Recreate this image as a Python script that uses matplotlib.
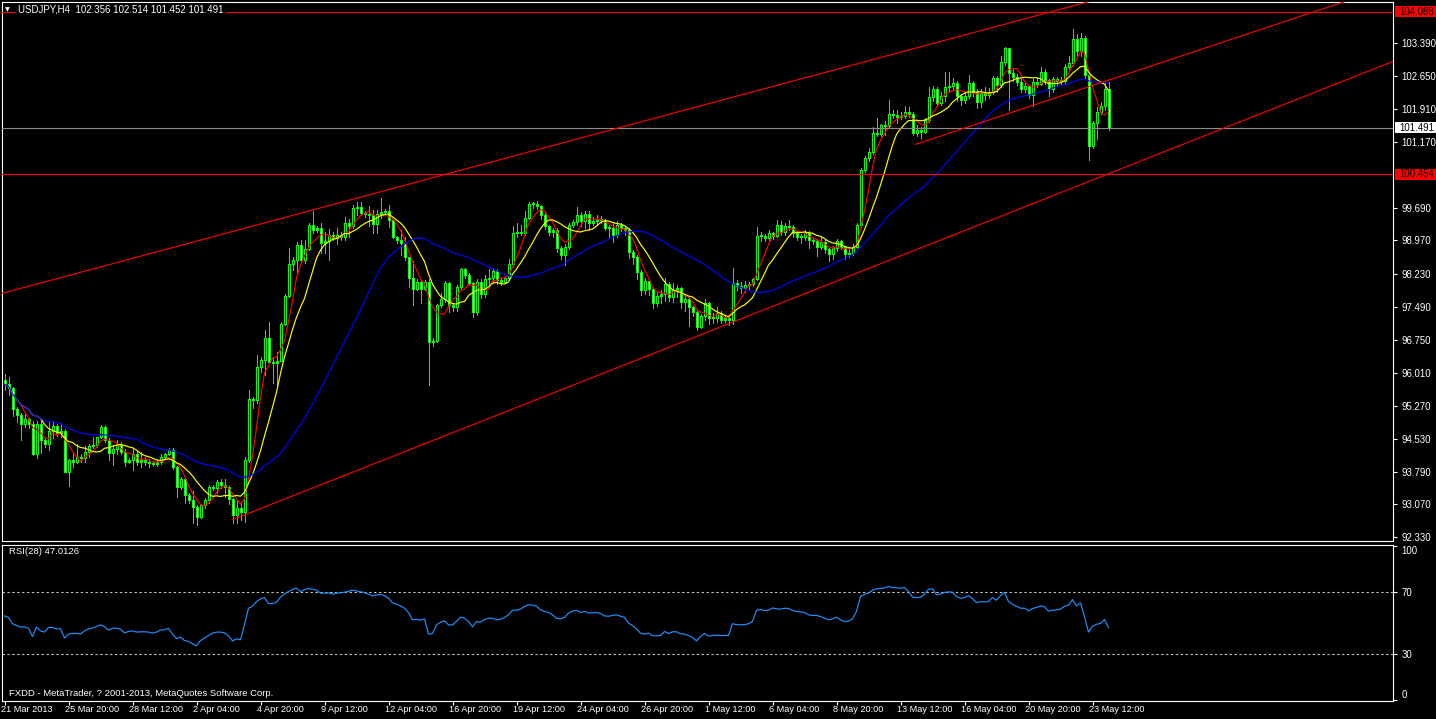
import numpy as np
import pandas as pd
import matplotlib
matplotlib.use("Agg")
import matplotlib.pyplot as plt
from matplotlib.patches import Rectangle
from matplotlib.transforms import blended_transform_factory

# ---------------- data ----------------
header_text = "USDJPY,H4  102.356 102.514 101.452 101.491"
rsi_text = "RSI(28) 47.0126"
copyright_text = "FXDD - MetaTrader, ? 2001-2013, MetaQuotes Software Corp."

first_open = 95.85
closes = [
    95.75, 95.66, 95.19, 95.06, 94.85, 94.97, 94.85, 94.19, 94.85, 94.50,
    94.41, 94.70, 94.82, 94.65, 94.70, 93.79, 94.06, 94.02, 94.12, 94.10,
    94.24, 94.37, 94.40, 94.56, 94.80, 94.50, 94.22, 94.30, 94.40, 94.24,
    94.02, 94.06, 94.20, 94.02, 94.06, 94.02, 93.98, 93.97, 94.00, 94.12,
    94.18, 94.27, 93.89, 93.46, 93.64, 93.27, 93.16, 93.01, 92.79, 93.05,
    93.16, 93.46, 93.42, 93.57, 93.50, 93.46, 93.19, 92.82, 92.97, 92.90,
    94.05, 95.41, 95.40, 96.13, 96.29, 96.78, 96.26, 96.22, 96.28, 97.11,
    97.73, 98.44, 98.53, 98.86, 98.53, 98.77, 99.31, 99.20, 99.25, 98.91,
    98.95, 99.09, 99.03, 99.10, 99.05, 99.35, 99.30, 99.69, 99.72, 99.58,
    99.56, 99.55, 99.33, 99.56, 99.60, 99.62, 99.43, 99.05, 98.99, 98.92,
    98.59, 98.14, 97.88, 98.05, 97.88, 98.05, 96.69, 96.73, 97.52, 97.65,
    98.01, 97.52, 97.47, 97.92, 98.32, 98.20, 98.01, 97.36, 98.05, 97.77,
    98.10, 98.12, 98.29, 98.08, 98.05, 98.12, 98.44, 99.14, 99.17, 99.14,
    99.47, 99.78, 99.79, 99.74, 99.54, 99.29, 99.17, 99.20, 98.80, 98.65,
    98.83, 99.32, 99.39, 99.54, 99.40, 99.56, 99.37, 99.40, 99.46, 99.43,
    99.24, 99.25, 99.09, 99.31, 99.25, 99.21, 98.72, 98.61, 98.27, 97.86,
    98.07, 97.88, 97.58, 97.73, 97.76, 97.99, 97.70, 97.86, 97.90, 97.60,
    97.67, 97.47, 97.37, 97.04, 97.28, 97.56, 97.23, 97.23, 97.34, 97.20,
    97.24, 97.18, 98.01, 97.95, 97.90, 97.97, 98.00, 98.10, 99.07, 99.06,
    99.02, 99.13, 99.07, 99.31, 99.15, 99.29, 99.27, 99.14, 99.05, 99.05,
    99.14, 98.97, 98.95, 98.83, 98.94, 98.77, 98.66, 98.79, 98.96, 98.82,
    98.67, 98.70, 98.83, 99.31, 100.55, 100.81, 100.96, 101.38, 101.36, 101.55,
    101.53, 101.81, 101.78, 101.73, 101.75, 101.85, 101.80, 101.38, 101.45, 101.40,
    101.67, 102.19, 102.37, 102.05, 102.20, 102.41, 102.42, 102.50, 102.20, 102.12,
    102.20, 102.50, 102.30, 102.08, 102.28, 102.22, 102.30, 102.60, 102.45, 102.97,
    103.27, 102.71, 102.64, 102.52, 102.37, 102.42, 102.23, 102.52, 102.48, 102.75,
    102.56, 102.35, 102.58, 102.55, 102.55, 102.86, 102.95, 103.49, 103.20, 103.50,
    102.67, 101.08, 101.59, 101.85, 101.98, 102.356, 101.491,
]
highs = [
    95.98, 95.92, 95.70, 95.25, 95.10, 95.10, 95.00, 94.92, 94.92, 94.92,
    94.55, 94.92, 94.92, 94.85, 94.88, 94.76, 94.08, 94.19, 94.42, 94.18,
    94.37, 94.42, 94.56, 94.58, 94.84, 94.84, 94.55, 94.38, 94.50, 94.45,
    94.30, 94.10, 94.30, 94.25, 94.24, 94.12, 94.08, 94.03, 94.05, 94.18,
    94.22, 94.32, 94.32, 93.92, 93.68, 93.68, 93.32, 93.35, 93.05, 93.08,
    93.20, 93.50, 93.50, 93.60, 93.62, 93.62, 93.48, 93.20, 93.16, 93.12,
    94.13, 95.63, 95.47, 96.40, 96.37, 96.96, 97.15, 96.37, 96.48, 97.15,
    97.78, 98.79, 98.61, 98.94, 98.98, 98.99, 99.35, 99.64, 99.30, 99.35,
    99.17, 99.22, 99.15, 99.24, 99.15, 99.49, 99.46, 99.76, 99.82, 99.82,
    99.62, 99.74, 99.65, 99.65, 99.91, 99.68, 99.76, 99.43, 99.07, 99.20,
    99.05, 98.59, 98.52, 98.10, 98.08, 98.08, 98.10, 96.78, 97.55, 97.80,
    98.06, 98.05, 97.58, 97.98, 98.35, 98.36, 98.24, 98.05, 98.10, 98.10,
    98.20, 98.33, 98.35, 98.32, 98.14, 98.15, 98.55, 99.30, 99.35, 99.32,
    99.62, 99.84, 99.84, 99.85, 99.76, 99.58, 99.32, 99.25, 99.25, 98.85,
    98.90, 99.35, 99.43, 99.71, 99.60, 99.62, 99.62, 99.50, 99.54, 99.52,
    99.46, 99.32, 99.35, 99.40, 99.35, 99.30, 99.25, 98.75, 98.65, 98.30,
    98.12, 98.10, 97.92, 97.80, 97.85, 98.12, 98.05, 98.02, 97.98, 97.93,
    97.75, 97.70, 97.50, 97.40, 97.32, 97.65, 97.60, 97.35, 97.48, 97.38,
    97.30, 97.28, 98.35, 98.08, 98.05, 98.06, 98.04, 98.14, 99.28, 99.17,
    99.12, 99.20, 99.15, 99.42, 99.40, 99.36, 99.42, 99.32, 99.18, 99.12,
    99.20, 99.18, 99.02, 99.00, 99.05, 98.98, 98.80, 98.84, 99.00, 98.99,
    98.85, 98.78, 98.88, 99.35, 100.60, 100.85, 101.05, 101.50, 101.70, 101.58,
    101.65, 102.11, 101.90, 101.88, 101.85, 101.98, 101.95, 101.85, 101.55, 101.52,
    101.72, 102.40, 102.42, 102.40, 102.30, 102.75, 102.75, 102.60, 102.55, 102.25,
    102.30, 102.68, 102.55, 102.35, 102.35, 102.40, 102.38, 102.65, 102.65, 103.10,
    103.30, 103.28, 102.80, 102.70, 102.58, 102.50, 102.45, 102.58, 102.60, 102.85,
    102.80, 102.58, 102.62, 102.62, 102.62, 102.92, 103.10, 103.70, 103.60, 103.62,
    103.55, 102.70, 101.65, 101.95, 102.06, 102.51, 102.514,
]
lows = [
    95.62, 95.51, 95.03, 94.91, 94.50, 94.80, 94.78, 94.17, 94.10, 94.22,
    94.35, 94.28, 94.55, 94.60, 94.58, 93.79, 93.47, 93.90, 93.98, 94.00,
    94.02, 94.13, 94.32, 94.35, 94.54, 94.46, 94.06, 93.94, 94.20, 94.18,
    93.92, 93.98, 93.84, 93.95, 93.90, 93.95, 93.90, 93.92, 93.93, 93.96,
    94.08, 94.17, 93.85, 93.22, 93.40, 93.10, 93.10, 92.64, 92.60, 92.75,
    92.98, 93.10, 93.38, 93.32, 93.42, 93.23, 93.08, 92.64, 92.64, 92.72,
    92.67, 94.02, 95.21, 95.32, 96.03, 95.95, 96.22, 95.77, 95.73, 96.27,
    97.07, 97.70, 98.31, 98.27, 98.49, 98.46, 98.75, 99.13, 99.15, 98.68,
    98.68, 98.53, 98.98, 98.90, 98.98, 98.98, 99.05, 99.25, 99.54, 99.54,
    99.50, 99.30, 99.13, 99.13, 99.47, 99.55, 99.28, 99.02, 98.92, 98.65,
    98.54, 97.93, 97.52, 97.85, 97.56, 97.85, 95.73, 96.60, 96.70, 97.47,
    97.60, 97.37, 97.38, 97.40, 97.88, 98.12, 97.97, 97.26, 97.30, 97.68,
    97.70, 98.00, 98.05, 98.00, 97.98, 98.02, 98.08, 98.40, 99.05, 99.10,
    99.10, 99.45, 99.70, 99.68, 99.45, 99.22, 99.10, 99.05, 98.72, 98.55,
    98.42, 98.78, 99.28, 99.32, 99.30, 99.25, 99.20, 99.32, 99.32, 99.35,
    99.20, 99.05, 98.94, 99.05, 99.18, 99.10, 98.58, 98.45, 98.10, 97.75,
    97.78, 97.75, 97.45, 97.50, 97.58, 97.62, 97.62, 97.60, 97.70, 97.45,
    97.40, 97.05, 97.28, 96.97, 97.00, 97.20, 97.10, 97.12, 97.15, 97.12,
    97.14, 97.08, 97.10, 97.86, 97.80, 97.82, 97.88, 97.96, 98.08, 98.95,
    98.95, 98.98, 99.00, 99.04, 99.10, 99.10, 99.20, 99.05, 98.98, 98.92,
    98.98, 98.80, 98.88, 98.62, 98.78, 98.70, 98.52, 98.55, 98.74, 98.77,
    98.55, 98.60, 98.65, 98.80, 99.28, 100.50, 100.75, 100.90, 101.30, 101.30,
    101.33, 101.50, 101.72, 101.60, 101.68, 101.70, 101.73, 101.33, 101.30, 101.26,
    101.38, 101.63, 102.10, 101.98, 102.00, 102.10, 102.30, 102.35, 102.10, 102.00,
    102.05, 102.15, 102.20, 101.93, 101.95, 102.12, 102.15, 102.25, 102.30, 102.40,
    102.90, 101.90, 102.55, 102.45, 102.30, 102.30, 102.15, 101.98, 102.40, 102.45,
    102.48, 102.20, 102.30, 102.46, 102.45, 102.50, 102.80, 102.90, 103.12, 103.10,
    102.60, 100.77, 101.03, 101.25, 101.80, 101.90, 101.452,
]
rsi_values = [
    54.6, 53.6, 49.5, 48.4, 47.3, 47.5, 46.6, 41.2, 47.3, 44.9,
    44.1, 47.1, 47.1, 46.2, 46.2, 40.2, 42.8, 43.2, 43.2, 42.8,
    44.9, 46.2, 46.6, 47.7, 48.8, 47.7, 45.4, 46.6, 46.6, 46.0,
    43.6, 44.5, 44.9, 44.1, 44.3, 44.3, 44.1, 43.4, 44.1, 45.4,
    45.6, 46.6, 42.8, 39.9, 40.8, 38.6, 38.0, 36.5, 35.2, 38.6,
    40.2, 41.9, 43.4, 44.1, 44.1, 43.6, 41.7, 38.4, 39.7, 39.1,
    48.8, 59.6, 60.9, 63.9, 65.7, 66.5, 62.6, 62.6, 63.5, 66.8,
    68.9, 70.4, 71.9, 72.6, 70.4, 71.7, 72.4, 71.9, 71.3, 69.4,
    69.4, 69.6, 68.7, 69.4, 69.6, 70.0, 70.6, 71.3, 70.9, 70.2,
    69.8, 68.7, 67.6, 68.3, 68.5, 67.8, 66.1, 63.1, 62.2, 61.1,
    59.6, 56.8, 52.1, 52.5, 51.8, 52.7, 42.8, 43.2, 48.8, 50.5,
    51.4, 48.8, 48.8, 51.0, 53.8, 53.1, 51.0, 47.5, 51.0, 50.5,
    52.3, 53.1, 53.1, 52.1, 52.5, 53.6, 55.3, 58.3, 58.3, 59.0,
    60.7, 61.8, 61.6, 60.9, 58.5, 57.5, 56.8, 55.3, 53.1, 52.7,
    53.6, 56.4, 57.7, 58.3, 56.8, 57.5, 56.6, 56.6, 56.8, 56.2,
    54.6, 54.4, 54.9, 55.3, 54.4, 53.6, 49.9, 48.4, 46.2, 43.4,
    42.8, 43.4, 41.7, 41.7, 41.9, 44.5, 43.2, 44.3, 44.3, 43.0,
    42.8, 41.9, 40.6, 38.4, 41.2, 43.2, 41.5, 41.9, 42.1, 41.9,
    41.9, 41.9, 49.5, 49.0, 48.8, 49.0, 49.5, 51.0, 58.3, 58.8,
    58.1, 58.3, 59.8, 59.2, 59.0, 59.6, 59.4, 58.1, 57.5, 57.2,
    56.8, 55.3, 54.9, 54.9, 54.2, 53.1, 52.1, 52.7, 53.8, 52.1,
    51.0, 51.2, 52.7, 57.5, 67.2, 68.5, 69.4, 71.3, 72.2, 72.4,
    72.8, 73.7, 73.0, 72.8, 72.6, 73.0, 70.4, 66.8, 66.5, 66.8,
    68.7, 71.9, 72.2, 68.3, 68.9, 69.8, 70.2, 70.0, 67.2, 66.1,
    66.5, 67.8, 65.7, 63.3, 63.9, 63.7, 63.9, 66.5, 64.8, 67.8,
    69.8, 63.9, 62.2, 60.9, 59.6, 59.6, 57.9, 59.4, 60.1, 61.1,
    60.5, 57.7, 58.3, 58.5, 59.0, 60.9, 61.6, 65.2, 61.1, 63.1,
    54.2, 44.1, 47.9, 49.2, 49.7, 52.3, 47.0,
]

x_labels = ["21 Mar 2013", "25 Mar 20:00", "28 Mar 12:00", "2 Apr 04:00", "4 Apr 20:00",
            "9 Apr 12:00", "12 Apr 04:00", "16 Apr 20:00", "19 Apr 12:00", "24 Apr 04:00",
            "26 Apr 20:00", "1 May 12:00", "6 May 04:00", "8 May 20:00", "13 May 12:00",
            "16 May 04:00", "20 May 20:00", "23 May 12:00"]
x_label_bars = [0, 16, 32, 48, 64, 80, 96, 112, 128, 144, 160, 176, 192, 208, 224, 240, 256, 272]

price_ticks = [103.390, 102.650, 101.910, 101.170, 99.690, 98.970, 98.230, 97.490,
               96.750, 96.010, 95.270, 94.530, 93.790, 93.070, 92.330]
red_levels = [104.088, 100.454]
bid_level = 101.491
rsi_ticks = [100, 70, 30, 0]
rsi_levels = [70, 30]

# trend lines: two anchors (bar index, price)
trend_upper = [(0.0, 97.80), (250.0, 103.81)]
trend_mid = [(227.75, 101.12), (277.75, 102.61)]
trend_lower = [(57.0, 92.72), (231.5, 98.89)]

ma_periods = {"red": 5, "yellow": 10, "blue": 34}

# ---------------- figure ----------------
plt.rcParams["font.family"] = ["Liberation Sans", "DejaVu Sans"]
W, H = 1436, 719
fig = plt.figure(figsize=(W / 100, H / 100), dpi=100, facecolor="black")


def box(l, t, r, b):
    return [l / W, 1 - b / H, (r - l) / W, (b - t) / H]


ax = fig.add_axes(box(2, 2, 1393, 541))
rx = fig.add_axes(box(2, 545, 1393, 701))
FG = "white"
LIME = "#00ff00"
FS = 6.4
PX = 0.72  # one pixel in points

# bar i is centred on pixel column 4 + 4*i (4 px per bar)
x_left, x_right = (2 - 4.5) / 4, (1393 - 4.5) / 4
for a in (ax, rx):
    a.set_facecolor("black")
    for s in a.spines.values():
        s.set_color(FG)
        s.set_linewidth(0.8)
    a.set_xlim(x_left, x_right)

y_top, y_bot = 104.308, 92.2416
ax.set_ylim(y_bot, y_top)
rx.set_ylim(-0.65, 100.65)
ppx = (y_top - y_bot) / 539.0

n = len(closes)
idx = np.arange(n)
c = np.array(closes)
o = np.array([first_open] + closes[:-1])
h = np.maximum(np.array(highs), np.maximum(o, c))
l = np.minimum(np.array(lows), np.minimum(o, c))

# candles: wick, 3px lime body, 1px inner fill (white = bearish, black = bullish)
wick = ax.vlines(idx, l, h, colors=LIME, lw=PX, antialiased=False, zorder=2)
top = np.maximum(o, c)
bot = np.minimum(o, c)
body_top = np.maximum(top, bot + ppx)
body = ax.vlines(idx, bot, body_top, colors=LIME, lw=3 * PX, antialiased=False, zorder=3)
m = (top - bot) > 2.2 * ppx
fill = np.where(c < o, "white", "black")
inner = ax.vlines(idx[m], (bot + ppx)[m], (top - ppx)[m], colors=list(fill[m]), lw=PX,
                  antialiased=False, zorder=4)
for coll in (wick, body, inner):
    coll.set_capstyle("butt")

# moving averages
cs = pd.Series(c)
ma_colors = {"red": "#ff0000", "yellow": "#ffff00", "blue": "#0000ff"}
for col, p in ma_periods.items():
    ma = cs.rolling(p, min_periods=1).mean()
    ax.plot(idx, ma, color=ma_colors[col], lw=0.85, zorder=5)

# horizontal levels
for lv in red_levels:
    ax.axhline(lv, color="#ff0000", lw=0.8, zorder=6)
ax.axhline(bid_level, color="#8c8c8c", lw=0.8, zorder=6)


# trend lines
def draw_trend(anchors, extend_left):
    (x0, p0), (x1, p1) = anchors
    slope = (p1 - p0) / (x1 - x0)
    xs = np.array([x0 - 100 if extend_left else x0, 400.0])
    ax.plot(xs, p0 + slope * (xs - x0), color="#ff0000", lw=0.8, zorder=6)


draw_trend(trend_upper, True)
draw_trend(trend_mid, False)
draw_trend(trend_lower, False)

# main y axis
ax.set_xticks([])
ax.yaxis.tick_right()
ax.set_yticks(price_ticks)
ax.set_yticklabels([f"{v:.3f}" for v in price_ticks])
ax.tick_params(axis="y", colors=FG, labelcolor=FG, labelsize=FS + 0.5, length=3, width=0.8, pad=3)

# price boxes on the right
tr = blended_transform_factory(fig.transFigure, ax.transData)
for lv, fc in [(red_levels[0], "#ff0000"), (bid_level, "white"), (red_levels[1], "#ff0000")]:
    ax.add_patch(Rectangle((1395 / W, lv - 5.5 * ppx), 41 / W, 11 * ppx, transform=tr,
                           facecolor=fc, edgecolor="none", clip_on=False, zorder=10))
    ax.text(1399 / W, lv, f"{lv:.3f}", transform=tr, color="black", fontsize=FS + 0.5,
            va="center", ha="left", zorder=11, clip_on=False)

# RSI
rx.plot(idx, rsi_values, color="#1e90ff", lw=0.85, zorder=3)
for lv in rsi_levels:
    rx.axhline(lv, color="#c0c0c0", lw=0.8, dashes=(2.2, 2.2), zorder=2)
rx.yaxis.tick_right()
rx.set_yticks(rsi_ticks)
rx.set_yticklabels([str(v) for v in rsi_ticks])
rx.tick_params(axis="y", colors=FG, labelcolor=FG, labelsize=FS + 0.5, length=3, width=0.8, pad=3)
labs = rx.get_yticklabels()
labs[0].set_va("top")
labs[-1].set_va("bottom")

rx.set_xticks(x_label_bars)
rx.tick_params(axis="x", colors=FG, length=3, width=0.8, labelbottom=False)
for bar, lab in zip(x_label_bars, x_labels):
    rx.annotate(lab, xy=(bar, 0), xycoords=("data", "axes fraction"),
                xytext=(-2.2, -3.2), textcoords="offset points",
                color=FG, fontsize=FS + 0.2, ha="left", va="top", annotation_clip=False)

rx.text(7 / 1391, 1 - 6 / 156, rsi_text, transform=rx.transAxes, color=FG,
        fontsize=FS + 0.4, va="center", ha="left")
rx.text(7 / 1391, 8 / 156, copyright_text, transform=rx.transAxes, color=FG,
        fontsize=FS + 0.4, va="center", ha="left")

# header
fig.text(18 / W, 1 - 10 / H, header_text, color=FG, fontsize=FS + 0.6, va="center", ha="left",
         bbox=dict(boxstyle="square,pad=0.25", facecolor="black", edgecolor="none"), zorder=20)
fig.text(5 / W, 1 - 10 / H, "\u25bc", color=FG, fontsize=4.5, va="center", ha="left",
         family="DejaVu Sans", zorder=21)

fig.savefig("out.png", dpi=100, facecolor="black")
